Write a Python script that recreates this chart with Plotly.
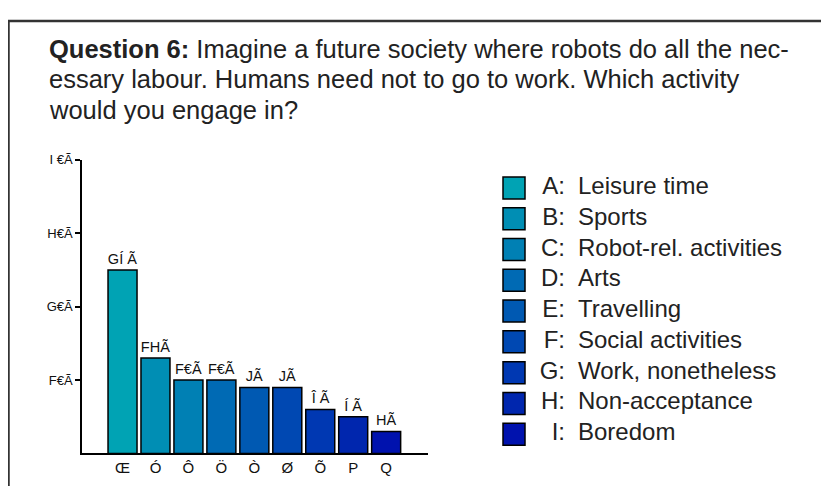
import plotly.graph_objects as go

# data (labels kept exactly as they appear in the source picture)
letters = ['A', 'B', 'C', 'D', 'E', 'F', 'G', 'H', 'I']
tick_glyphs = ['Œ', 'Ó', 'Ô', 'Ö', 'Ò', 'Ø', 'Õ', 'P', 'Q']
values = [25, 13, 10, 10, 9, 9, 6, 5, 3]
bar_text = ['GÍ Ã', 'FHÃ', 'F€Ã', 'F€Ã', 'JÃ', 'JÃ', 'Î Ã', 'Í Ã', 'HÃ']
activities = ['Leisure time', 'Sports', 'Robot-rel. activities', 'Arts', 'Travelling',
              'Social activities', 'Work, nonetheless', 'Non-acceptance', 'Boredom']
y_ticks = [10, 20, 30, 40]
y_ticktext = ['F€Ã', 'G€Ã', 'H€Ã', 'I €Ã']
title_lines = ['<b>Question 6:</b> Imagine a future society where robots do all the nec-',
               'essary labour. Humans need not to go to work. Which activity',
               'would you engage in?']
colors = ['#00a3b4', '#008eb4', '#0080b4', '#006ab4', '#0059b2',
          '#0048b2', '#0038b2', '#0026ae', '#0012ae']

# the page body adds an 8px margin, so the figure is 8px smaller
W, H = 821, 478
FONT = 'Liberation Sans, Arial, sans-serif'


def py(v):
    # pixel row -> paper y
    return 1 - v / H


fig = go.Figure()

fig.add_trace(go.Bar(
    x=tick_glyphs, y=values, text=bar_text, textposition='outside',
    constraintext='none',
    textfont=dict(size=14.5, color='#111'), cliponaxis=False,
    marker=dict(color=colors, line=dict(color='black', width=1.5)),
    xaxis='x', yaxis='y', showlegend=False,
))

# legend drawn as its own little panel
leg_x_box, leg_x_letter, leg_x_name = 506, 557, 570
fig.add_trace(go.Scatter(
    x=[leg_x_box] * len(letters), y=activities, mode='markers',
    marker=dict(symbol='square', size=22, color=colors, line=dict(color='black', width=1.5)),
    xaxis='x2', yaxis='y2', showlegend=False, hoverinfo='skip',
))
fig.add_trace(go.Scatter(
    x=[leg_x_letter] * len(letters), y=activities, mode='text',
    text=[l + ':' for l in letters], textposition='middle left',
    textfont=dict(size=24, color='#222', family=FONT),
    xaxis='x2', yaxis='y2', showlegend=False, hoverinfo='skip',
))
fig.add_trace(go.Scatter(
    x=[leg_x_name] * len(letters), y=activities, mode='text',
    text=activities, textposition='middle right',
    textfont=dict(size=24, color='#222', family=FONT),
    xaxis='x2', yaxis='y2', showlegend=False, hoverinfo='skip',
))

annotations = []
for i, line in enumerate(title_lines):
    annotations.append(dict(
        x=39 / W, y=py(34 + 31 * i), xref='paper', yref='paper',
        xanchor='left', yanchor='middle', align='left', showarrow=False,
        font=dict(size=25.5, color='#222', family=FONT), text=line,
    ))

fig.update_layout(
    width=W, height=H,
    margin=dict(l=0, r=0, t=0, b=0),
    paper_bgcolor='white', plot_bgcolor='rgba(0,0,0,0)',
    font=dict(family=FONT, color='#111'),
    bargap=0.12,
    xaxis=dict(domain=[74 / W, 420 / W], range=[-1.23, 9.27], type='category',
               showline=True, linecolor='black', linewidth=1.5,
               ticks='', showgrid=False, tickfont=dict(size=15)),
    yaxis=dict(domain=[py(445), py(147)], range=[0, 40], type='linear',
               showline=True, linecolor='black', linewidth=1.5,
               ticks='outside', ticklen=5, tickcolor='black', tickwidth=1.5,
               tickvals=y_ticks, ticktext=y_ticktext, showgrid=False,
               zeroline=False, tickfont=dict(size=13)),
    xaxis2=dict(domain=[0, 1], range=[0, W], visible=False, anchor='y2'),
    yaxis2=dict(domain=[py(441), py(160)], range=[8.5, -0.5],
                visible=False, anchor='x2', type='category'),
    annotations=annotations,
    shapes=[
        dict(type='line', xref='paper', yref='paper', x0=0, x1=1,
             y0=py(6), y1=py(6), line=dict(color='#333', width=2.5)),
        dict(type='line', xref='paper', yref='paper', x0=0.5 / W, x1=0.5 / W,
             y0=0, y1=py(6), line=dict(color='#333', width=2.5)),
    ],
)

fig.write_html('out.html')
